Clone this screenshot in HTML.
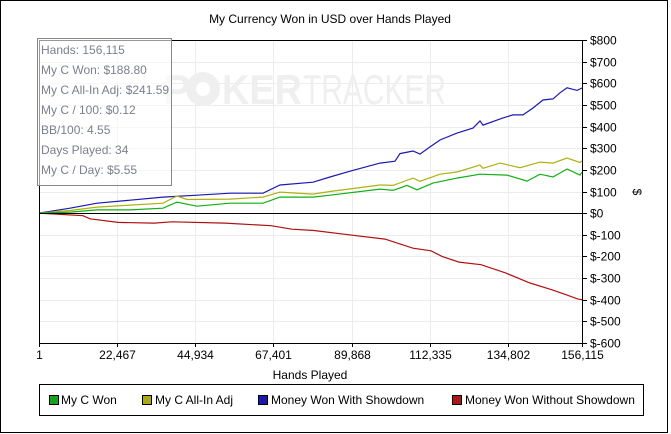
<!DOCTYPE html>
<html><head><meta charset="utf-8"><style>
body{margin:0;background:#fff;}
svg{display:block;font-family:"Liberation Sans",sans-serif;}
</style></head><body>
<svg id="chart" width="671" height="434" viewBox="0 0 671 434">
<rect x="0.5" y="0.5" width="667" height="432" fill="#fff" stroke="#000"/>
<text x="330" y="23" font-size="12" text-anchor="middle">My Currency Won in USD over Hands Played</text>
<g id="grid"></g>
<g font-family="Liberation Sans,sans-serif" font-weight="bold" fill="#efefef">
<text x="163" y="104" font-size="42">P</text>
<circle cx="203" cy="89" r="17" fill="#efefef"/><circle cx="203" cy="89" r="7" fill="#fff"/>
<text x="222" y="104" font-size="42" textLength="80" lengthAdjust="spacingAndGlyphs">KER</text>
<text x="303" y="104" font-size="42" font-weight="normal" textLength="143" lengthAdjust="spacingAndGlyphs">TRACKER</text>
</g>
<g id="series"></g>
<g id="axes"></g>
<text x="310" y="379" font-size="12" text-anchor="middle">Hands Played</text>
<text transform="translate(633,192) rotate(90)" font-size="12" text-anchor="middle">$</text>
<g>
<rect x="37.5" y="38.5" width="134" height="147" fill="#fff" fill-opacity="0.6" stroke="#888"/>
<g font-size="12" fill="#7b7f8e" font-family="Liberation Sans,sans-serif">
<text x="41" y="54">Hands: 156,115</text>
<text x="41" y="74">My C Won: $188.80</text>
<text x="41" y="94">My C All-In Adj: $241.59</text>
<text x="41" y="114">My C / 100: $0.12</text>
<text x="41" y="134">BB/100: 4.55</text>
<text x="41" y="154">Days Played: 34</text>
<text x="41" y="174">My C / Day: $5.55</text>
</g></g>
<g>
<rect x="39.5" y="384.5" width="604" height="31" fill="#fff" stroke="#000"/>
<g font-size="12">
<rect x="49.5" y="395.5" width="9" height="9" fill="#1aa31a" stroke="#000"/>
<text x="61" y="404">My C Won</text>
<rect x="142.5" y="395.5" width="9" height="9" fill="#a8a81a" stroke="#000"/>
<text x="155" y="404">My C All-In Adj</text>
<rect x="258.5" y="395.5" width="9" height="9" fill="#1a1aa8" stroke="#000"/>
<text x="271" y="404">Money Won With Showdown</text>
<rect x="452.5" y="395.5" width="9" height="9" fill="#a81a1a" stroke="#000"/>
<text x="465" y="404">Money Won Without Showdown</text>
</g></g>
</svg>
<script>
const xTicks=[1,22467,44934,67401,89868,112335,134802,156115];
const xTickLabels=["1","22,467","44,934","67,401","89,868","112,335","134,802","156,115"];
const yTicks=[800,700,600,500,400,300,200,100,0,-100,-200,-300,-400,-500,-600];
const yTickLabels=["$800","$700","$600","$500","$400","$300","$200","$100","$0","$-100","$-200","$-300","$-400","$-500","$-600"];
const greenHands=[1,8913,16675,26163,35650,39675,45425,54913,64400,69288,78775,83663,98038,101775,105800,108675,113275,120175,126788,134550,140300,144038,147775,151800,155538,156115];
const greenVals=[0,5,15,15,23,51,32,46,46,74,74,83,111,105,128,108,139,162,180,176,148,180,167,204,176,189];
const yellowHands=[1,8913,16675,26163,35650,39675,42550,54913,64400,69288,78775,83663,98038,101775,107525,109538,115288,120175,126788,127650,132538,138288,144038,147775,151800,155538,156115];
const yellowVals=[0,12,28,37,46,79,63,65,74,97,88,100,130,128,162,147,180,190,222,207,231,210,236,231,255,234,241];
const blueHands=[1,8913,16675,26163,35650,45425,54913,64400,69288,78775,83663,89413,98038,102350,103788,107525,109538,112413,115288,120175,124775,126788,127650,133400,136275,139150,142025,144900,147775,149788,151800,154675,156115];
const blueVals=[0,23,46,60,74,83,92,92,130,143,167,194,231,240,275,287,273,306,338,370,393,426,407,440,454,454,486,523,528,556,579,567,578];
const redHands=[1,12650,14663,22713,33063,38238,53475,66700,72738,79063,89125,99475,107525,112700,115863,120750,127075,134263,141163,147488,151513,154963,156115];
const redVals=[0,-12,-26,-43,-46,-40,-46,-58,-74,-80,-100,-120,-162,-174,-200,-226,-238,-277,-323,-354,-377,-397,-400];

const L=39,R=582,T=40,B=343,xMin=1,xMax=156115,yMin=-600,yMax=800;
const sx=h=>L+(h-xMin)/(xMax-xMin)*(R-L);
const sy=v=>B-(v-yMin)/(yMax-yMin)*(B-T);
const NS="http://www.w3.org/2000/svg";
function mk(tag,attrs,parent){const e=document.createElementNS(NS,tag);for(const k in attrs)e.setAttribute(k,attrs[k]);parent.appendChild(e);return e;}
const grid=document.getElementById('grid'),axes=document.getElementById('axes'),series=document.getElementById('series');
yTicks.forEach((v,i)=>{
  const y=Math.round(sy(v))+0.5;
  const g=mk('line',{x1:L,x2:R,y1:y,y2:y,stroke:'#ececec'},grid);
  
  
  const t=mk('line',{x1:R,x2:R+5,y1:y,y2:y,stroke:'#000'},axes);
  
  
  const lb=mk('text',{x:R+8,y:y+4,'font-size':12},axes);
  lb.textContent=yTickLabels[i];
  
  
});
xTicks.forEach((h,i)=>{
  const x=Math.round(sx(h))+0.5;
  const g=mk('line',{x1:x,x2:x,y1:T,y2:B,stroke:'#ececec'},grid);
  
  
  const t=mk('line',{x1:x,x2:x,y1:B,y2:B+4,stroke:'#000'},axes);
  
  
  const lb=mk('text',{x:x,y:B+16,'font-size':12,'text-anchor':'middle'},axes);
  lb.textContent=xTickLabels[i];
  
  
});
const frame=mk('path',{d:`M${L+0.5},${B} V${T+0.5} H${R+0.5} V${B+0.5} H${L}`,fill:'none',stroke:'#000'},axes);


const z=Math.round(sy(0))+0.5;
const zl=mk('line',{x1:L,x2:R,y1:z,y2:z,stroke:'#000'},axes);


function line(hs,vs,color,name){
  const d=hs.map((h,i)=>(i?'L':'M')+sx(h).toFixed(1)+','+sy(vs[i]).toFixed(1)).join(' ');
  const p=mk('path',{d:d,fill:'none',stroke:color,'stroke-width':1.2},series);
  
  
}
line(redHands,redVals,'#b01010','line-without-showdown');
line(blueHands,blueVals,'#1a1ab0','line-with-showdown');
line(yellowHands,yellowVals,'#b0b010','line-all-in-adj');
line(greenHands,greenVals,'#10b010','line-my-c-won');
</script>
</body></html>
